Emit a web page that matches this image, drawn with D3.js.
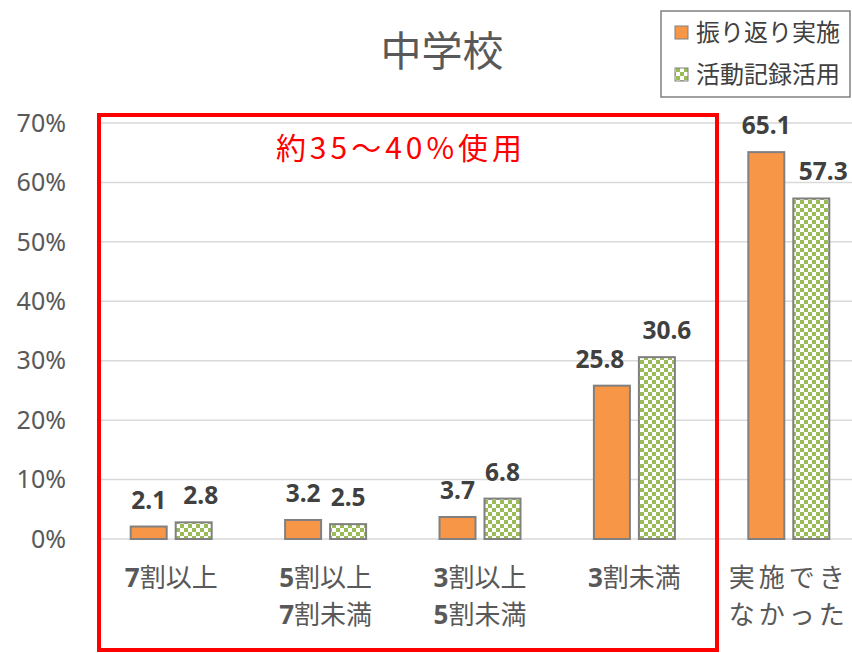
<!DOCTYPE html>
<html>
<head>
<meta charset="utf-8">
<script src="https://cdn.jsdelivr.net/npm/d3@7"></script>
<style>
  body { margin: 0; background: #fff; }
  svg { display: block; font-family: "Noto Sans", "Noto Sans CJK JP", sans-serif; }
</style>
</head>
<body>
<div id="chart"></div>
<script>
// categories (multi-line labels)
const categories = [['7割以上'], ['5割以上', '7割未満'], ['3割以上', '5割未満'], ['3割未満'], ['実施でき', 'なかった']];
const seriesNames = ['振り返り実施', '活動記録活用'];
const reflection = [2.1, 3.2, 3.7, 25.8, 65.1];
const records = [2.8, 2.5, 6.8, 30.6, 57.3];
const yTicks = [0, 10, 20, 30, 40, 50, 60, 70];

// hand-nudged label shifts (as in the original chart)
const labelShift = [[0, 0, 0, -12, 0], [7, 0, 0, 10, 12]];

const width = 852, height = 653;
const svg = d3.select('#chart').append('svg')
  .attr('width', width)
  .attr('height', height);

// checker pattern for the second series
const defs = svg.append('defs');
const pat = defs.append('pattern')
  .attr('id', 'checker')
  .attr('patternUnits', 'userSpaceOnUse')
  .attr('width', 8).attr('height', 8);
pat.append('rect').attr('width', 8).attr('height', 8).attr('fill', '#fff');
pat.append('rect').attr('width', 4).attr('height', 4).attr('fill', '#9BBB59');
pat.append('rect').attr('x', 4).attr('y', 4).attr('width', 4).attr('height', 4).attr('fill', '#9BBB59');

const x = d3.scaleBand()
  .domain(d3.range(categories.length))
  .range([94, 866]);
const xs = d3.scaleBand()
  .domain([0, 1])
  .range([0, 81])
  .paddingInner(0.2);
const y = d3.scaleLinear()
  .domain([0, 70])
  .range([539, 123]);

// gridlines
svg.append('g')
  .selectAll('line')
  .data(yTicks)
  .enter()
  .append('line')
  .attr('x1', 100).attr('x2', width)
  .attr('y1', d => y(d)).attr('y2', d => y(d))
  .attr('stroke', '#D9D9D9')
  .attr('stroke-width', 1.5);

// y axis labels
svg.append('g')
  .selectAll('text')
  .data(yTicks)
  .enter()
  .append('text')
  .attr('x', 66)
  .attr('y', d => y(d))
  .attr('dy', '0.35em')
  .attr('text-anchor', 'end')
  .attr('font-size', 25)
  .attr('fill', '#595959')
  .text(d => d + '%');

// bars
const series = [reflection, records];
const fills = ['#F79646', 'url(#checker)'];
series.forEach((vals, si) => {
  const g = svg.append('g');
  g.selectAll('rect')
    .data(vals)
    .enter()
    .append('rect')
    .attr('x', (d, i) => x(i) + (x.bandwidth() - 81) / 2 + xs(si))
    .attr('y', d => y(d))
    .attr('width', xs.bandwidth())
    .attr('height', d => y(0) - y(d))
    .attr('fill', fills[si])
    .attr('stroke', '#808080')
    .attr('stroke-width', 2);

  g.selectAll('text')
    .data(vals)
    .enter()
    .append('text')
    .attr('x', (d, i) => x(i) + (x.bandwidth() - 81) / 2 + xs(si) + xs.bandwidth() / 2 + labelShift[si][i])
    .attr('y', d => y(d) - 18)
    .attr('text-anchor', 'middle')
    .attr('font-size', 24.5)
    .attr('font-weight', 'bold')
    .attr('fill', '#404040')
    .text(d => d.toFixed(1));
});

// category labels, digits bold
const catG = svg.append('g');
categories.forEach((lines, i) => {
  lines.forEach((line, li) => {
    const t = catG.append('text')
      .attr('x', x(i) + x.bandwidth() / 2)
      .attr('y', 587 + li * 37)
      .attr('text-anchor', 'middle')
      .attr('font-size', 26)
      .attr('fill', '#595959')
      .attr('letter-spacing', i === 4 ? 4 : 0);
    const m = line.match(/^(\d*)(.*)$/);
    if (m[1]) t.append('tspan').attr('font-weight', 'bold').text(m[1]);
    t.append('tspan').text(m[2]);
  });
});

// title
svg.append('text')
  .attr('x', 442)
  .attr('y', 66)
  .attr('text-anchor', 'middle')
  .attr('font-size', 41)
  .attr('fill', '#595959')
  .attr('font-family', '"Noto Sans CJK JP", sans-serif')
  .text('中学校');

// red highlight box and note
svg.append('rect')
  .attr('x', 99).attr('y', 115)
  .attr('width', 618).attr('height', 535)
  .attr('fill', 'none')
  .attr('stroke', '#FF0000')
  .attr('stroke-width', 4);

svg.append('text')
  .attr('x', 401)
  .attr('y', 159)
  .attr('text-anchor', 'middle')
  .attr('font-size', 30)
  .attr('letter-spacing', 4)
  .attr('fill', '#FF0000')
  .attr('font-family', '"Noto Sans CJK JP", sans-serif')
  .text('約35〜40%使用');

// legend
const legend = svg.append('g');
legend.append('rect')
  .attr('x', 661).attr('y', 11)
  .attr('width', 189).attr('height', 86)
  .attr('fill', '#fff')
  .attr('stroke', '#808080')
  .attr('stroke-width', 1.5);
seriesNames.forEach((name, i) => {
  legend.append('rect')
    .attr('x', 675).attr('y', 26 + i * 42)
    .attr('width', 13).attr('height', 13)
    .attr('fill', fills[i])
    .attr('stroke', '#808080')
    .attr('stroke-width', 1);
  legend.append('text')
    .attr('x', 696).attr('y', 33 + i * 42)
    .attr('dy', '0.35em')
    .attr('font-size', 24)
    .attr('fill', '#404040')
    .attr('font-family', '"Noto Sans CJK JP", sans-serif')
    .text(name);
});
</script>
</body>
</html>
